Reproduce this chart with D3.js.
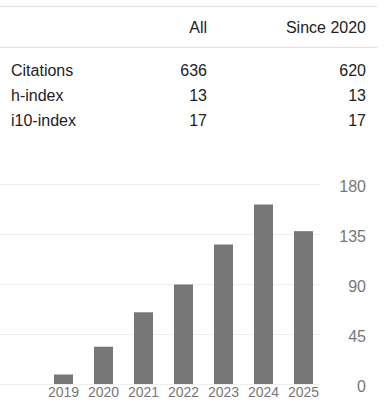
<!DOCTYPE html>
<html>
<head>
<meta charset="utf-8">
<script src="https://cdn.jsdelivr.net/npm/d3@7"></script>
<style>
  body { margin: 0; background: #fff; }
  svg { display: block; font-family: Arial, "Liberation Sans", sans-serif; }
</style>
</head>
<body>
<div id="chart"></div>
<script>
// table data
var columns = ["All", "Since 2020"];
var rowLabels = ["Citations", "h-index", "i10-index"];
var allValues = [636, 13, 17];
var sinceValues = [620, 13, 17];

// bar chart data
var years = ["2019", "2020", "2021", "2022", "2023", "2024", "2025"];
var citations = [9, 34, 65, 90, 126, 162, 138];
var yTicks = [0, 45, 90, 135, 180];

var width = 384, height = 413;
var fontFamily = "Arial, 'Liberation Sans', sans-serif";
var svg = d3.select("#chart").append("svg")
    .attr("width", width)
    .attr("height", height);

// --- table ---
var colRight = [207, 366];
var lineColor = "#e0e0e0";

svg.append("line")
    .attr("x1", 0).attr("x2", 377)
    .attr("y1", 6.5).attr("y2", 6.5)
    .attr("stroke", lineColor);
svg.append("line")
    .attr("x1", 0).attr("x2", 377)
    .attr("y1", 47.5).attr("y2", 47.5)
    .attr("stroke", lineColor);

svg.selectAll("text.head")
    .data(columns)
    .enter().append("text")
    .attr("class", "head")
    .attr("x", function(d, i){ return colRight[i]; })
    .attr("y", 33)
    .attr("text-anchor", "end")
    .attr("font-size", 16)
    .attr("fill", "#222")
    .text(function(d){ return d; });

var rows = svg.selectAll("g.row")
    .data(rowLabels)
    .enter().append("g")
    .attr("class", "row")
    .attr("transform", function(d, i){ return "translate(0," + (76 + i * 25) + ")"; });

rows.append("text")
    .attr("x", 11)
    .attr("font-size", 16)
    .attr("fill", "#222")
    .text(function(d){ return d; });
rows.append("text")
    .attr("x", colRight[0])
    .attr("text-anchor", "end")
    .attr("font-size", 16)
    .attr("fill", "#222")
    .text(function(d, i){ return allValues[i]; });
rows.append("text")
    .attr("x", colRight[1])
    .attr("text-anchor", "end")
    .attr("font-size", 16)
    .attr("fill", "#222")
    .text(function(d, i){ return sinceValues[i]; });

// --- bar chart ---
var x = d3.scaleBand()
    .domain(years)
    .range([33, 334])
    .padding(0.525);

var y = d3.scaleLinear()
    .domain([0, 180])
    .range([384.5, 184.5]);

//gridlines
svg.append("g")
    .selectAll("line")
    .data(yTicks)
    .enter().append("line")
    .attr("x1", 0).attr("x2", 320)
    .attr("y1", function(d){ return y(d); })
    .attr("y2", function(d){ return y(d); })
    .attr("stroke", "#eee");

svg.append("g")
    .selectAll("rect")
    .data(citations)
    .enter().append("rect")
    .attr("x", function(d, i){ return x(years[i]); })
    .attr("y", function(d){ return y(d); })
    .attr("width", x.bandwidth())
    .attr("height", function(d){ return y(0) - 0.5 - y(d); })
    .attr("fill", "#777");

var xAxis = svg.append("g")
    .attr("transform", "translate(0,385)")
    .call(d3.axisBottom(x).tickSize(0).tickPadding(0))
    .attr("font-family", fontFamily)
    .attr("font-size", 14);
xAxis.select(".domain").remove();
xAxis.selectAll("text")
    .attr("dy", "12px")
    .attr("fill", "#777");

var yAxis = svg.append("g")
    .attr("transform", "translate(366,0)")
    .call(d3.axisLeft(y).tickValues(yTicks).tickSize(0).tickPadding(0))
    .attr("font-family", fontFamily)
    .attr("font-size", 16);
yAxis.select(".domain").remove();
yAxis.selectAll("text")
    .attr("dy", "6.5px")
    .attr("fill", "#777");
</script>
</body>
</html>
